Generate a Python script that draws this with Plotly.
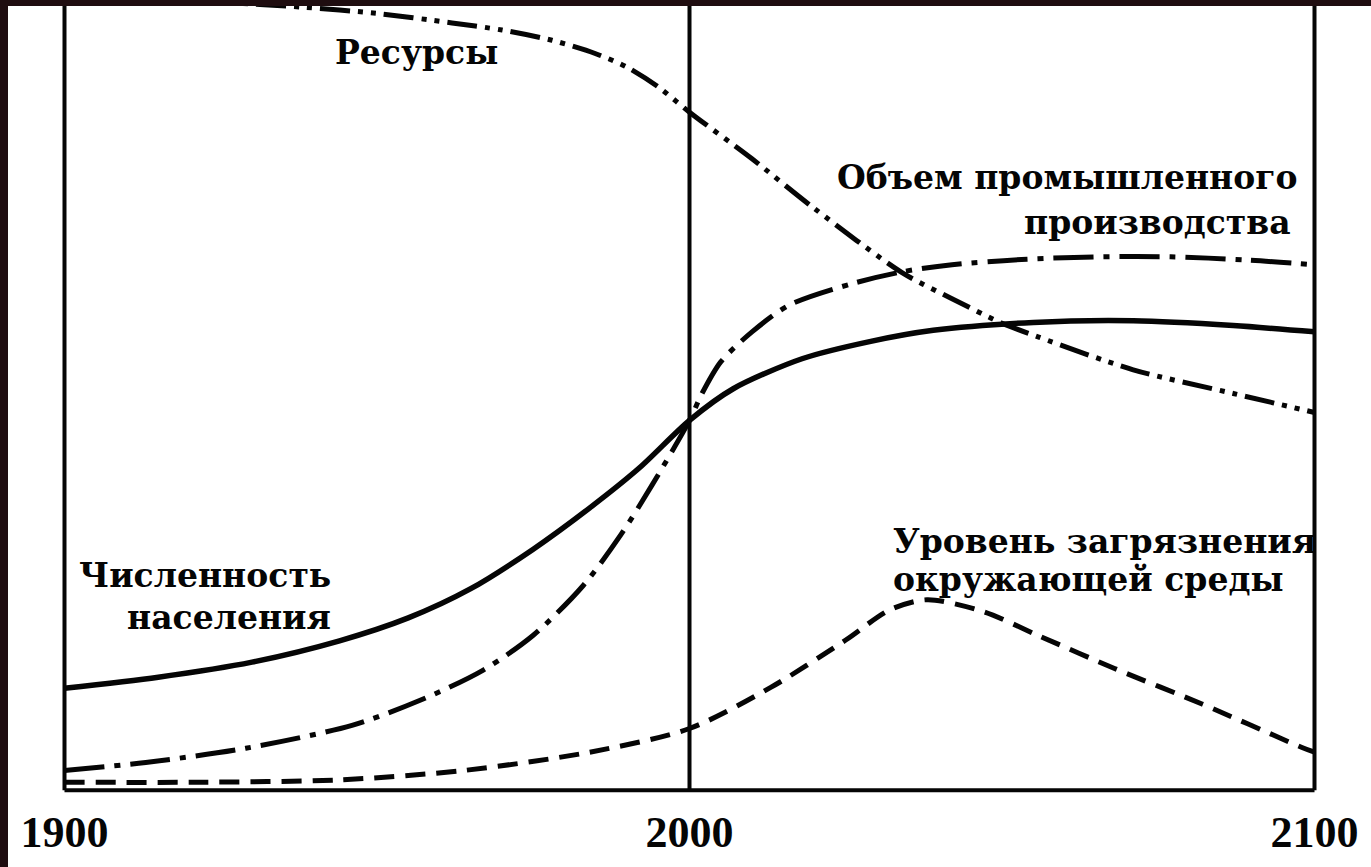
import plotly.graph_objects as go

# ---- data (y in relative units 0..100) ----
tick_years = [1900, 2000, 2100]
tick_labels = ["1900", "2000", "2100"]

pop_years = [1900, 1915, 1930, 1944, 1955, 1965, 1975, 1984, 1992, 2000, 2007, 2018, 2029, 2039, 2055, 2071, 2087, 2100]
population = [12.9, 14.3, 16.2, 18.9, 21.8, 25.5, 30.5, 35.7, 40.8, 46.8, 50.8, 54.6, 56.8, 58.2, 59.2, 59.4, 58.8, 58.0]

ind_years = [1900, 1913, 1929, 1946, 1957, 1967, 1975, 1983, 1989, 1994, 2000, 2002, 2005, 2010, 2016, 2026, 2034, 2042, 2054, 2066, 2077, 2089, 2100]
industry = [2.5, 3.5, 5.3, 8.2, 11.4, 15.2, 19.6, 25.9, 32.3, 38.6, 46.8, 50.2, 54.2, 58.0, 61.4, 64.1, 65.6, 66.5, 67.2, 67.5, 67.5, 67.1, 66.5]

res_years = [1900, 1913, 1926, 1938, 1950, 1962, 1970, 1978, 1985, 1990, 1995, 2000, 2010, 2020, 2034, 2042, 2050, 2056, 2071, 2087, 2100]
resources = [101.0, 100.4, 99.7, 99.1, 98.3, 97.1, 96.2, 94.9, 93.2, 91.5, 89.0, 85.8, 79.9, 73.6, 65.5, 62.2, 59.1, 57.3, 53.2, 50.2, 47.8]

pol_years = [1900, 1921, 1944, 1964, 1984, 2000, 2013, 2025, 2032, 2038, 2047, 2056, 2068, 2082, 2098, 2100]
pollution = [1.0, 1.0, 1.3, 2.5, 4.8, 7.8, 13.0, 19.0, 22.8, 24.1, 22.6, 19.5, 15.4, 10.9, 5.4, 4.8]

INK = "#050505"
LW = 5

fig = go.Figure()
fig.add_trace(go.Scatter(x=res_years, y=resources, mode="lines",
                         line=dict(color=INK, width=LW, dash="30px,8px,5px,8px,5px,8px", shape="spline", smoothing=0.8)))
fig.add_trace(go.Scatter(x=ind_years, y=industry, mode="lines",
                         line=dict(color=INK, width=LW, dash="40px,10px,6px,10px", shape="spline", smoothing=0.8)))
fig.add_trace(go.Scatter(x=pop_years, y=population, mode="lines",
                         line=dict(color=INK, width=LW + 0.5, shape="spline", smoothing=0.8)))
fig.add_trace(go.Scatter(x=pol_years, y=pollution, mode="lines",
                         line=dict(color=INK, width=LW, dash="20px,11px", shape="spline", smoothing=0.8)))

# axis frame lines (left, centre 2000, right, bottom)
for xv in tick_years:
    fig.add_shape(type="line", xref="x", yref="y", x0=xv, x1=xv, y0=0, y1=101, line=dict(color=INK, width=4))
fig.add_shape(type="line", xref="x", yref="y", x0=tick_years[0], x1=tick_years[-1], y0=0, y1=0,
              line=dict(color=INK, width=4))

# scan border (dark edge at top and left)
PW, PH, ML = 1275, 802, 52
BORDER = "#1f0d10"
fig.add_shape(type="rect", xref="paper", yref="paper", x0=-ML / PW - 0.01, x1=(8 - ML) / PW, y0=-0.2, y1=1.02,
              fillcolor=BORDER, line=dict(width=0), layer="above")
fig.add_shape(type="rect", xref="paper", yref="paper", x0=-ML / PW - 0.01, x1=1.1, y0=1 - 6 / PH, y1=1.02,
              fillcolor=BORDER, line=dict(width=0), layer="above")

lab_font = dict(family="DejaVu Serif", size=33, color=INK, weight="bold")
labels = [
    ("Ресурсы", 1956.3, 93.3, "center"),
    ("Объем промышленного", 2097.6, 77.5, "right"),
    ("производства", 2096.5, 71.8, "right"),
    ("Численность", 1942.9, 27.2, "right"),
    ("населения", 1942.9, 21.8, "right"),
    ("Уровень загрязнения", 2032.2, 31.5, "left"),
    ("окружающей среды", 2032.2, 26.6, "left"),
]
for txt, xv, yv, anc in labels:
    fig.add_annotation(x=xv, y=yv, xref="x", yref="y", text=txt, showarrow=False,
                       xanchor=anc, yanchor="middle", font=lab_font)

fig.update_layout(
    width=1371, height=867,
    margin=dict(l=ML, r=1371 - ML - PW, t=0, b=867 - PH),
    paper_bgcolor="white", plot_bgcolor="white",
    showlegend=False,
    xaxis=dict(range=[1898, 2102], tickvals=tick_years, ticktext=tick_labels, showgrid=False, zeroline=False,
               showline=False, ticks="", ticklabelstandoff=0,
               tickfont=dict(family="Liberation Serif", size=44, color=INK, weight="bold")),
    yaxis=dict(range=[-1.5, 100], showgrid=False, zeroline=False, showline=False, showticklabels=False, ticks=""),
)

fig.write_html("out.html", config={"displayModeBar": False},
               post_script="document.body.style.margin='0';document.body.style.overflow='hidden';")
